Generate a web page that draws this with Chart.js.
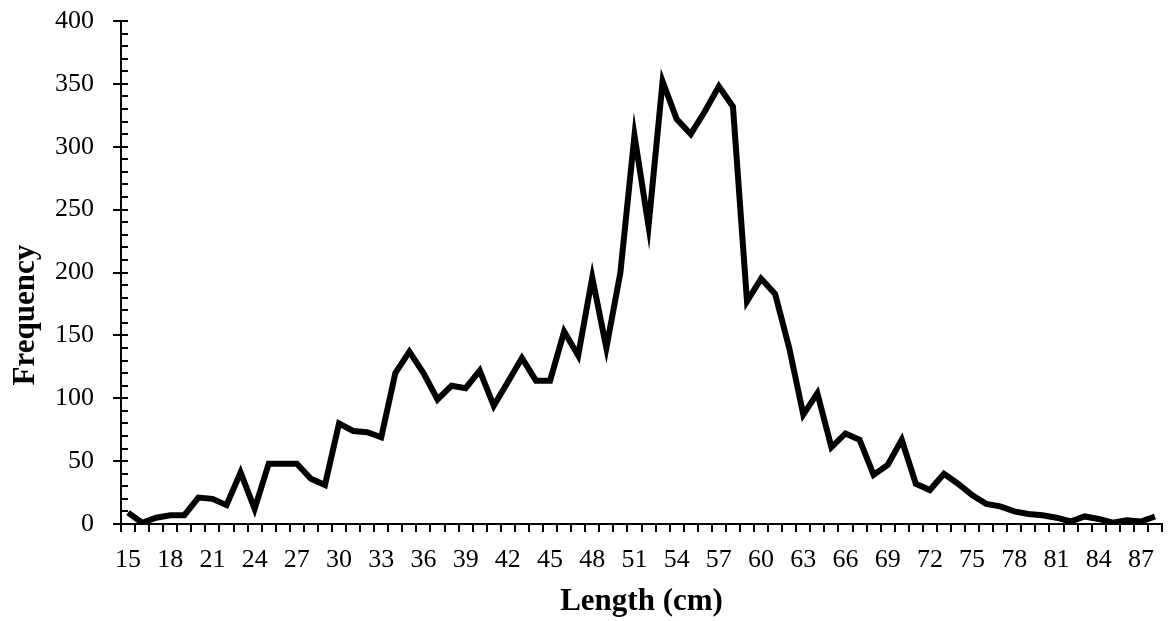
<!DOCTYPE html>
<html>
<head>
<meta charset="utf-8">
<title>Frequency by length</title>
<script src="https://cdn.jsdelivr.net/npm/chart.js@4"></script>
<style>
  body { margin: 0; background: #fff; }
  #contenedor { width: 1169px; height: 621px; position: relative; }
</style>
</head>
<body>
<div id="contenedor"><canvas id="myChart"></canvas></div>
<script>
/* Datos del gráfico */

const longitudes = [15, 16, 17, 18, 19, 20, 21, 22, 23, 24,
  25, 26, 27, 28, 29, 30, 31, 32, 33, 34,
  35, 36, 37, 38, 39, 40, 41, 42, 43, 44,
  45, 46, 47, 48, 49, 50, 51, 52, 53, 54,
  55, 56, 57, 58, 59, 60, 61, 62, 63, 64,
  65, 66, 67, 68, 69, 70, 71, 72, 73, 74,
  75, 76, 77, 78, 79, 80, 81, 82, 83, 84,
  85, 86, 87, 88];

const frecuencias = [9, 1, 5, 7, 7, 21, 20, 15, 41, 12,
  48, 48, 48, 36, 31, 80, 74, 73, 69, 120,
  137, 120, 99, 110, 108, 122, 94, 113, 132, 114,
  114, 153, 134, 196, 140, 200, 309, 237, 352, 322,
  310, 328, 348, 332, 177, 195, 183, 140, 87, 104,
  61, 72, 67, 39, 47, 67, 32, 27, 40, 32,
  23, 16, 14, 10, 8, 7, 5, 2, 6, 4,
  1, 3, 2, 6];

const ticksY = [0, 50, 100, 150, 200, 250, 300, 350, 400];

const ctx = document.getElementById('myChart');

/* ============================== */

/* Marcas internas del eje Y (mayores y menores) */

const ticksInternos = {
  id: 'ticksInternos',
  beforeDatasetsDraw(chart) {
    let escala = chart.scales.y;
    let x0 = chart.chartArea.left;
    let c = chart.ctx;
    c.save();
    c.strokeStyle = '#000';
    c.lineWidth = 2;
    escala.ticks.forEach(t => {
      let py = Math.round(escala.getPixelForValue(t.value));
      c.beginPath();
      c.moveTo(x0, py);
      c.lineTo(x0 + 7, py);
      c.stroke();
    });
    c.restore();
  }
};

/* ============================== */

function start_chart() {
  Chart.defaults.font.family = "'Liberation Serif', 'Times New Roman', serif";
  Chart.defaults.color = '#000';

  // el título del eje Y está algo más abajo que el centro del área
  let tituloY = 'Frequency' + '\u00A0'.repeat(11);

  const config = {
    type: 'line',
    data: {
      labels: longitudes,
      datasets: [{
        label: 'Frequency',
        data: frecuencias,
        borderColor: '#000',
        borderWidth: 6,
        borderJoinStyle: 'miter',
        pointRadius: 0,
        tension: 0,
        fill: false
      }]
    },
    options: {
      responsive: true,
      maintainAspectRatio: false,
      animation: false,
      layout: {
        padding: { top: 21, right: 7, bottom: 0, left: 0 }
      },
      plugins: {
        legend: { display: false },
        tooltip: { enabled: false }
      },
      scales: {
        x: {
          type: 'category',
          offset: true,
          afterFit: function (scale) {
            scale.height = 97;
            scale.paddingLeft = 0;
            scale.paddingRight = 0;
          },
          grid: {
            offset: true,
            drawOnChartArea: false,
            color: '#000',
            lineWidth: 2,
            tickLength: 8
          },
          border: { color: '#000', width: 2 },
          ticks: {
            autoSkip: false,
            maxRotation: 0,
            padding: 13,
            font: { size: 26 },
            callback: function (val, idx) {
              return idx % 3 === 0 ? String(longitudes[idx]) : '';
            }
          },
          title: {
            display: true,
            text: 'Length (cm)',
            font: { size: 31, weight: 'bold' },
            padding: { top: 0, bottom: 0 }
          }
        },
        y: {
          min: 0,
          max: 400,
          afterFit: function (scale) {
            scale.width = 121;
            scale.paddingTop = 0;
            scale.paddingBottom = 0;
          },
          grid: {
            drawOnChartArea: false,
            color: '#000',
            lineWidth: 2,
            tickLength: 8,
            tickColor: function (c) {
              return ticksY.includes(c.tick.value) ? '#000' : 'rgba(0,0,0,0)';
            }
          },
          border: { color: '#000', width: 2 },
          ticks: {
            stepSize: 10,
            autoSkip: false,
            padding: 19,
            font: { size: 26 },
            callback: function (val) {
              return ticksY.includes(val) ? String(val) : '';
            }
          },
          title: {
            display: true,
            text: tituloY,
            font: { size: 31, weight: 'bold' },
            padding: { top: 7, bottom: 0 }
          }
        }
      }
    },
    plugins: [ticksInternos]
  };
  new Chart(ctx, config);
}

function load_document() {
  start_chart();
}

// EVENTOS
window.addEventListener("load", load_document);
</script>
</body>
</html>
